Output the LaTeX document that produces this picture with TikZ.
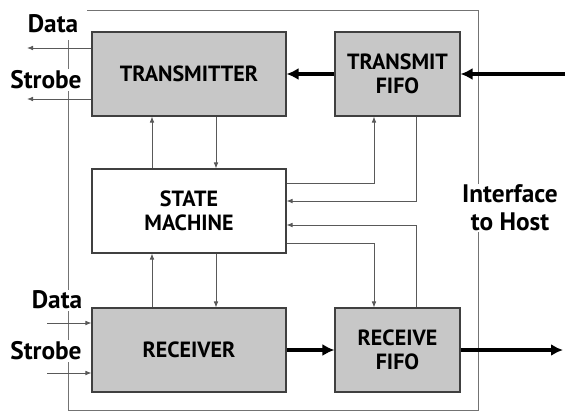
\documentclass[tikz,border=0pt]{standalone}
\usepackage{fontspec}
\setmainfont{PT Sans}
\usepackage{tikz}
\usetikzlibrary{arrows.meta, positioning, calc}

\tikzset{
  blocco/.style={draw=black!75, line width=0.8pt, fill=black!22, align=center,
    font=\bfseries\fontsize{16.5}{18}\selectfont, inner sep=0pt},
  freccia/.style={draw=black!65, line width=0.6pt, -{Latex[length=4.5pt,width=3.5pt]}},
  freccione/.style={line width=3pt, -{Latex[length=9pt,width=9pt]}},
  etichetta/.style={font=\bfseries\fontsize{19}{21}\selectfont, fill=white, inner sep=1pt, align=center},
}

\begin{document}
\begin{tikzpicture}[x=0.75pt, y=-0.75pt]
    \useasboundingbox (0,0) rectangle (565,415);

    % Il bordo del dispositivo
    \draw[black!55, line width=0.6pt] (87,10) -- (478,10) -- (478,410) -- (68,410) -- (68,40);

    % I blocchi
    \node[blocco, minimum width=145.5pt, minimum height=63pt] (tx) at (189,74) {TRANSMITTER};
    \node[blocco, minimum width=93.75pt, minimum height=63pt] (txfifo) at (397.5,74) {TRANSMIT\\FIFO};
    \node[blocco, fill=white, minimum width=145.5pt, minimum height=63pt] (sm) at (189,211) {STATE\\MACHINE};
    \node[blocco, minimum width=145.5pt, minimum height=63pt] (rx) at (189,350) {RECEIVER};
    \node[blocco, minimum width=93.75pt, minimum height=63pt] (rxfifo) at (397.5,350) {RECEIVE\\FIFO};

    % Le etichette
    \node[etichetta] (dtx) at (53,24) {Data};
    \node[etichetta] (stx) at (46,80) {Strobe};
    \node[etichetta] (drx) at (57,300) {Data};
    \node[etichetta] (srx) at (46,351) {Strobe};
    \node[etichetta] (host) at (510,208) {Interface\\to Host};

    % Punti di appoggio
    \coordinate (cL) at (152,0);
    \coordinate (cR) at (216,0);
    \coordinate (fL) at (374,0);
    \coordinate (fR) at (416,0);
    \coordinate (r1) at (0,183);
    \coordinate (r2) at (0,201);
    \coordinate (r3) at (0,225);
    \coordinate (r4) at (0,243);
    \coordinate (dout) at (27,48);
    \coordinate (sout) at (27,99);
    \coordinate (din) at (47,323);
    \coordinate (sin) at (47,373);
    \coordinate (hin) at (565,74);
    \coordinate (hout) at (563,350);

    % Flusso dei dati (frecce spesse)
    \draw[freccione] (hin) -- (txfifo);
    \draw[freccione] (txfifo) -- (tx);
    \draw[freccione] (rx) -- (rxfifo);
    \draw[freccione] (rxfifo) -- (hout);

    % Linee esterne
    \draw[freccia] (dout -| tx.west) -- (dout);
    \draw[freccia] (sout -| tx.west) -- (sout);
    \draw[freccia] (din) -- (din -| rx.west);
    \draw[freccia] (sin) -- (sin -| rx.west);

    % Segnali di controllo
    \draw[freccia] (sm.north -| cL) -- (tx.south -| cL);
    \draw[freccia] (tx.south -| cR) -- (sm.north -| cR);
    \draw[freccia] (rx.north -| cL) -- (sm.south -| cL);
    \draw[freccia] (sm.south -| cR) -- (rx.north -| cR);
    \draw[freccia] (r1 -| sm.east) -| (txfifo.south -| fL);
    \draw[freccia] (txfifo.south -| fR) |- (r2 -| sm.east);
    \draw[freccia] (rxfifo.north -| fR) |- (r3 -| sm.east);
    \draw[freccia] (r4 -| sm.east) -| (rxfifo.north -| fL);

\end{tikzpicture}
\end{document}
